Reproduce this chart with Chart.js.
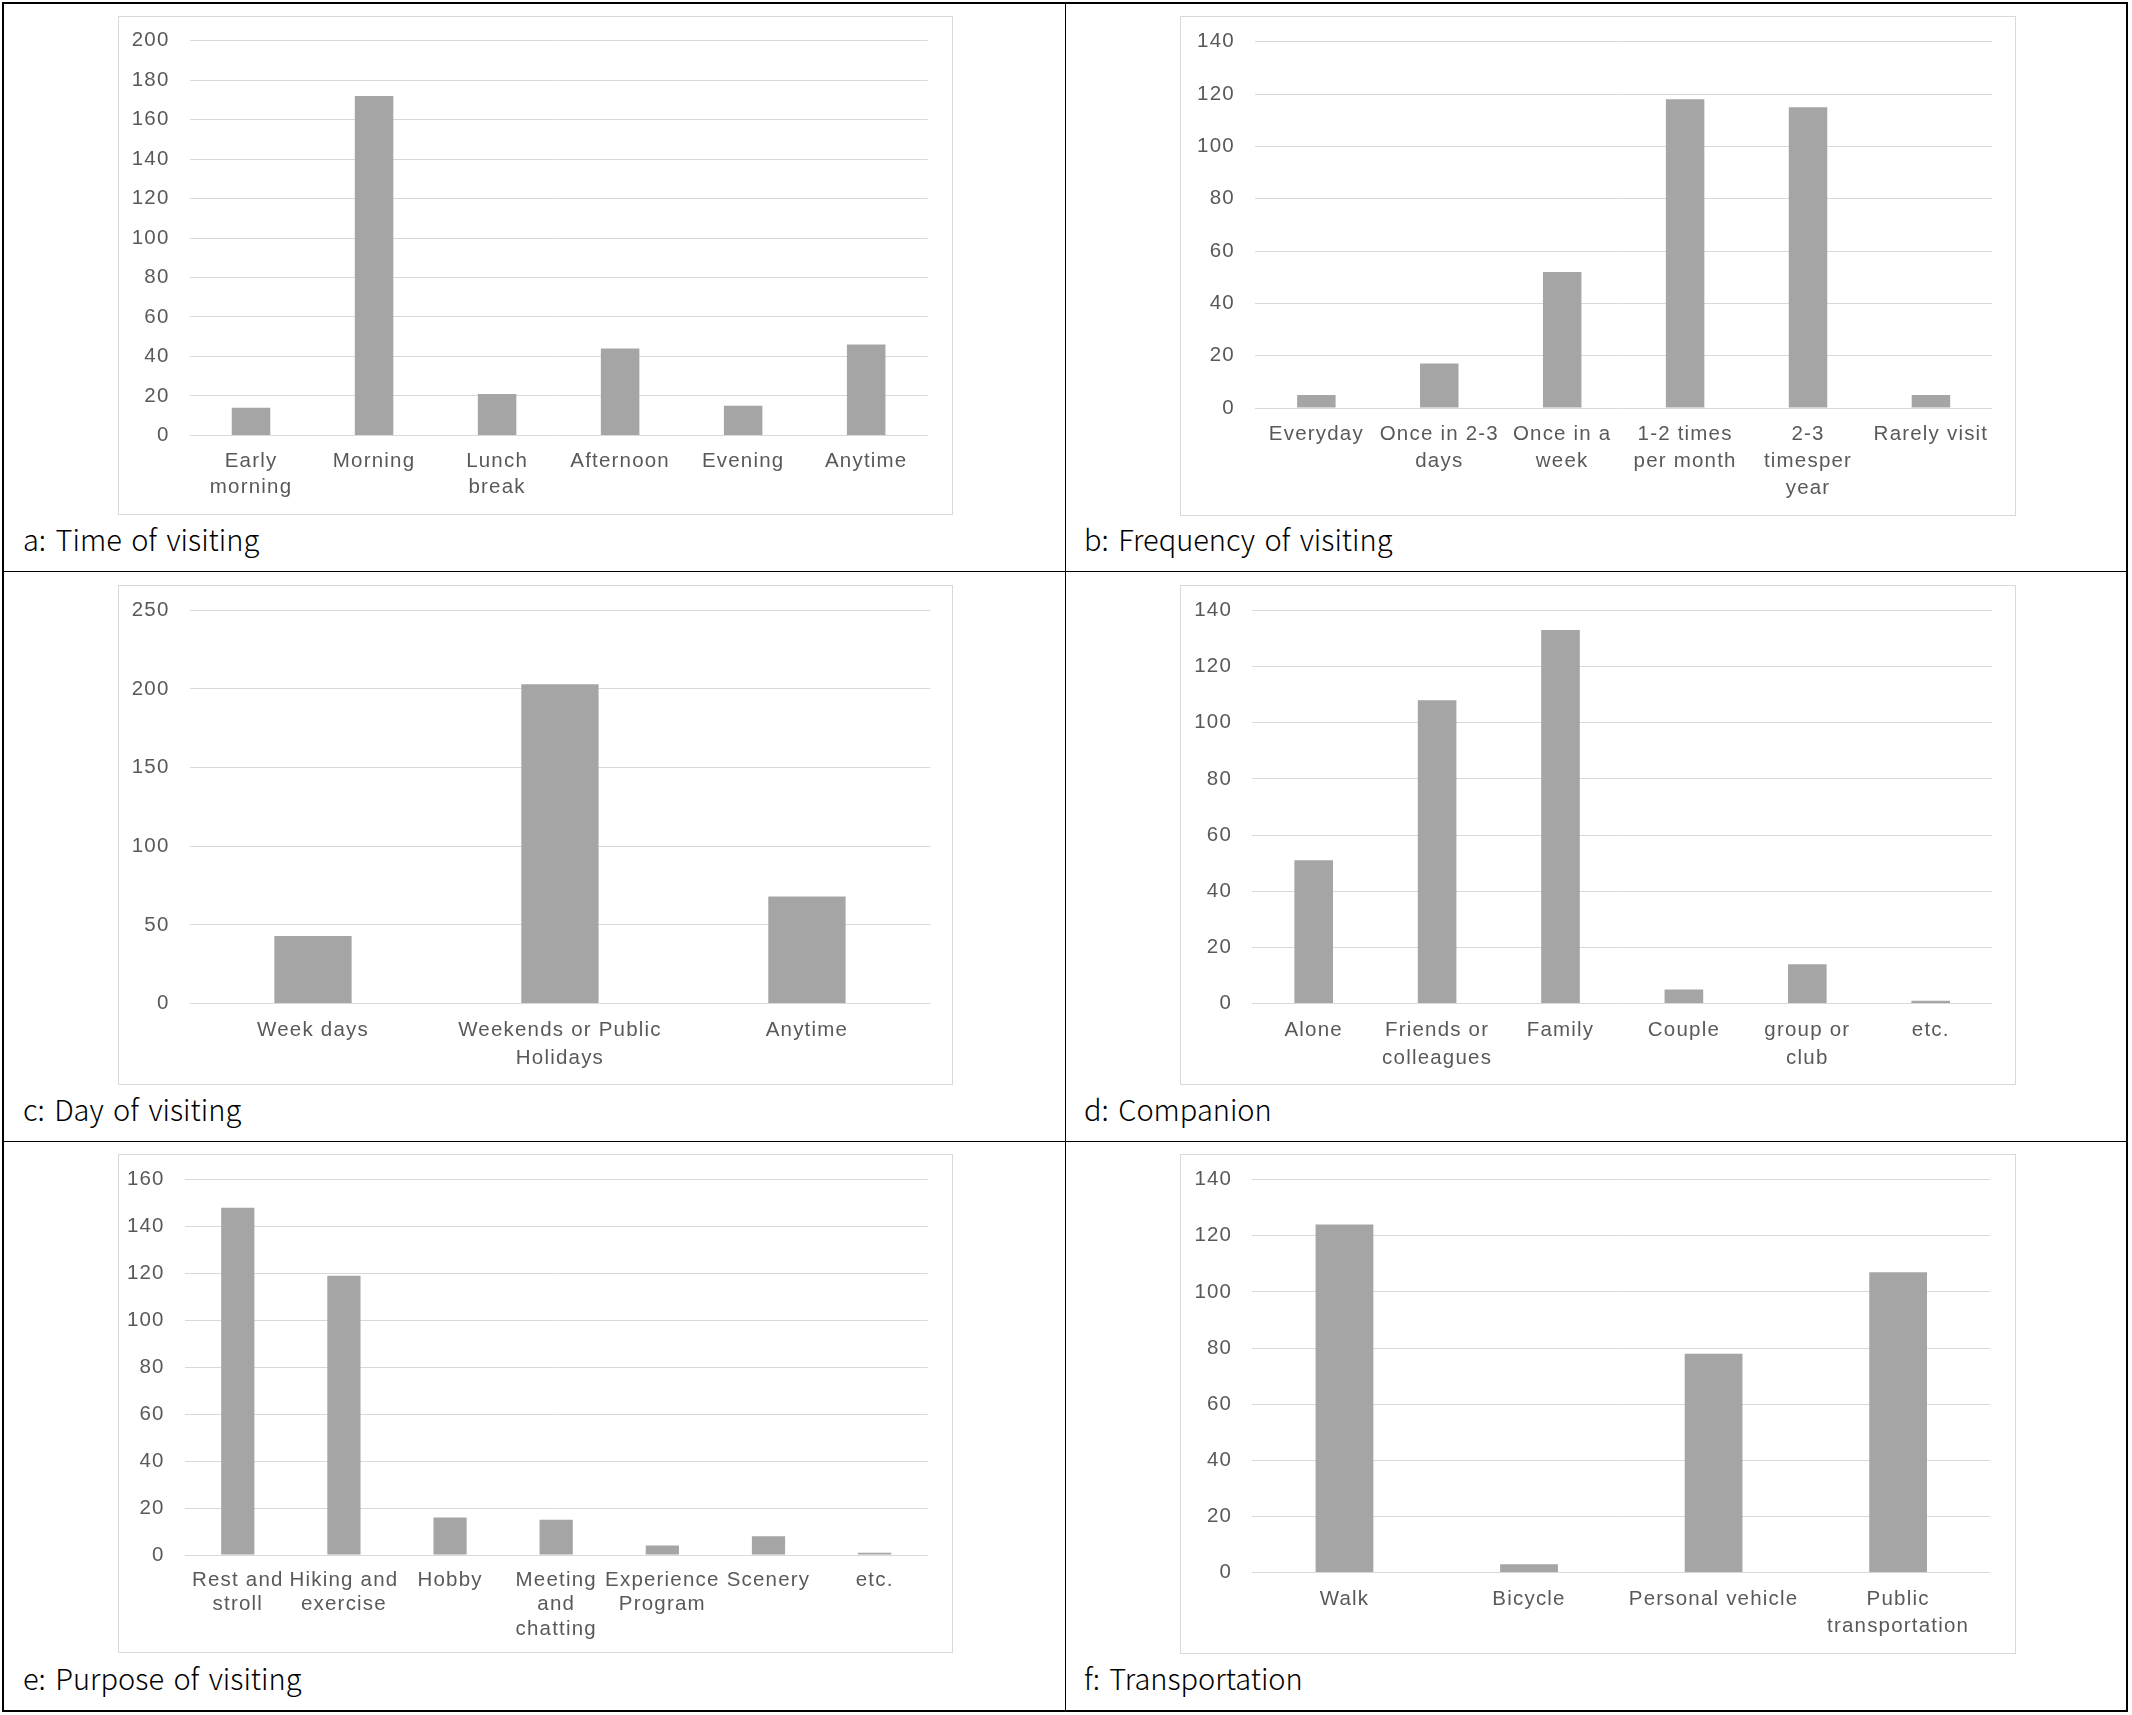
<!DOCTYPE html>
<html>
<head>
<meta charset="utf-8">
<script src="https://cdn.jsdelivr.net/npm/chart.js@4.4.1/dist/chart.umd.min.js"></script>
<style>
html,body{margin:0;padding:0;background:#fff;}
body{width:2132px;height:1715px;position:relative;overflow:hidden;}
.frame{position:absolute;left:2px;top:2px;width:2126px;height:1710px;border:2px solid #000;box-sizing:border-box;}
.vline{position:absolute;left:1065px;top:2px;width:1px;height:1710px;background:#000;}
.hline{position:absolute;left:2px;width:2126px;height:1px;background:#000;}
.box{position:absolute;border:1px solid #d9d9d9;box-sizing:border-box;}
.cap{position:absolute;font-family:"Noto Sans CJK KR","Noto Sans",sans-serif;font-size:29px;font-weight:300;word-spacing:3px;color:#000;white-space:pre;line-height:29px;}
canvas{position:absolute;}
</style>
</head>
<body>
<div class="frame"></div>
<div class="vline"></div>
<div class="hline" style="top:571px"></div>
<div class="hline" style="top:1141px"></div>
<div id="root"></div>
<script>
// ---- data ----
const timeLabels = [["Early","morning"], "Morning", ["Lunch","break"], "Afternoon", "Evening", "Anytime"];
const timeValues = [14, 172, 21, 44, 15, 46];

const freqLabels = ["Everyday", ["Once in 2-3","days"], ["Once in a","week"], ["1-2 times","per month"], ["2-3","timesper","year"], "Rarely visit"];
const freqValues = [5, 17, 52, 118, 115, 5];

const dayLabels = ["Week days", ["Weekends or Public","Holidays"], "Anytime"];
const dayValues = [43, 203, 68];

const companionLabels = ["Alone", ["Friends or","colleagues"], "Family", "Couple", ["group or","club"], "etc."];
const companionValues = [51, 108, 133, 5, 14, 1];

const purposeLabels = [["Rest and","stroll"], ["Hiking and","exercise"], "Hobby", ["Meeting","and","chatting"], ["Experience","Program"], "Scenery", "etc."];
const purposeValues = [148, 119, 16, 15, 4, 8, 1];

const transportLabels = ["Walk", "Bicycle", "Personal vehicle", ["Public","transportation"]];
const transportValues = [124, 3, 78, 107];

const yMaxes = [200, 140, 250, 140, 160, 140];
const ySteps = [20, 20, 50, 20, 20, 20];
const captions = ["a: Time of visiting", "b: Frequency of visiting", "c: Day of visiting", "d: Companion", "e: Purpose of visiting", "f: Transportation"];

// ---- layout (positions/sizes) ----
const layoutSpec = [
  {box:[118,16,835,499],   yW:71.5, padT:24.7, padR:25.3, xH:79.6, lh:26,   cap:[23,551]},
  {box:[1180,16,836,500],  yW:74.9, padT:25.8, padR:23.6, xH:107.9, lh:27,  cap:[1084,551]},
  {box:[118,585,835,500],  yW:71.5, padT:25.3, padR:22.6, xH:81.4, lh:27.5, cap:[23,1121]},
  {box:[1180,585,836,500], yW:72,   padT:25.3, padR:23.6, xH:81.4, lh:27.5, cap:[1084,1121]},
  {box:[118,1154,835,499], yW:66.7, padT:25.6, padR:25.3, xH:98,   lh:24.5, cap:[23,1690]},
  {box:[1180,1154,836,500],yW:72.2, padT:25.6, padR:25.6, xH:81.4, lh:27,   cap:[1084,1690]}
];

const allLabels = [timeLabels, freqLabels, dayLabels, companionLabels, purposeLabels, transportLabels];
const allValues = [timeValues, freqValues, dayValues, companionValues, purposeValues, transportValues];

const spacingPlugin = {
  id: 'letterSpacing',
  beforeLayout(chart){ chart.ctx.letterSpacing = '1.2px'; },
  beforeDraw(chart){ chart.ctx.letterSpacing = '1.2px'; }
};

const FONT = '"Liberation Sans", Arial, sans-serif';
const FS = 20.5;
const root = document.getElementById('root');

layoutSpec.forEach((L, i) => {
  const [bx, by, bw, bh] = L.box;
  const box = document.createElement('div');
  box.className = 'box';
  box.style.left = bx + 'px'; box.style.top = by + 'px';
  box.style.width = bw + 'px'; box.style.height = bh + 'px';
  root.appendChild(box);

  const cv = document.createElement('canvas');
  cv.width = bw; cv.height = bh;
  cv.style.left = bx + 'px'; cv.style.top = by + 'px';
  cv.style.width = bw + 'px'; cv.style.height = bh + 'px';
  root.appendChild(cv);

  const cap = document.createElement('div');
  cap.className = 'cap';
  cap.textContent = captions[i];
  cap.style.left = L.cap[0] + 'px';
  cap.style.top = (L.cap[1] - 27) + 'px';
  root.appendChild(cap);

  new Chart(cv.getContext('2d'), {
    type: 'bar',
    data: {
      labels: allLabels[i],
      datasets: [{
        data: allValues[i],
        backgroundColor: '#A5A5A5',
        borderWidth: 0,
        barPercentage: 0.313,
        categoryPercentage: 1.0
      }]
    },
    plugins: [spacingPlugin],
    options: {
      responsive: false,
      animation: false,
      devicePixelRatio: 1,
      layout: { padding: { top: L.padT, right: L.padR, left: 0, bottom: 0 } },
      plugins: { legend: { display: false }, tooltip: { enabled: false }, title: { display: false } },
      scales: {
        x: {
          grid: { display: false, drawTicks: false },
          border: { display: false },
          ticks: {
            color: '#595959',
            font: { family: FONT, size: FS, lineHeight: L.lh / FS },
            padding: 13,
            maxRotation: 0, minRotation: 0, autoSkip: false
          },
          afterFit: (s) => { s.height = L.xH; }
        },
        y: {
          min: 0, max: yMaxes[i],
          grid: { color: '#D9D9D9', lineWidth: 1, drawTicks: true, tickLength: 20, tickColor: 'rgba(0,0,0,0)' },
          border: { display: false },
          ticks: {
            stepSize: ySteps[i],
            color: '#595959',
            font: { family: FONT, size: FS },
            padding: 0
          },
          afterFit: (s) => { s.width = L.yW; }
        }
      }
    }
  });
});
</script>
</body>
</html>
